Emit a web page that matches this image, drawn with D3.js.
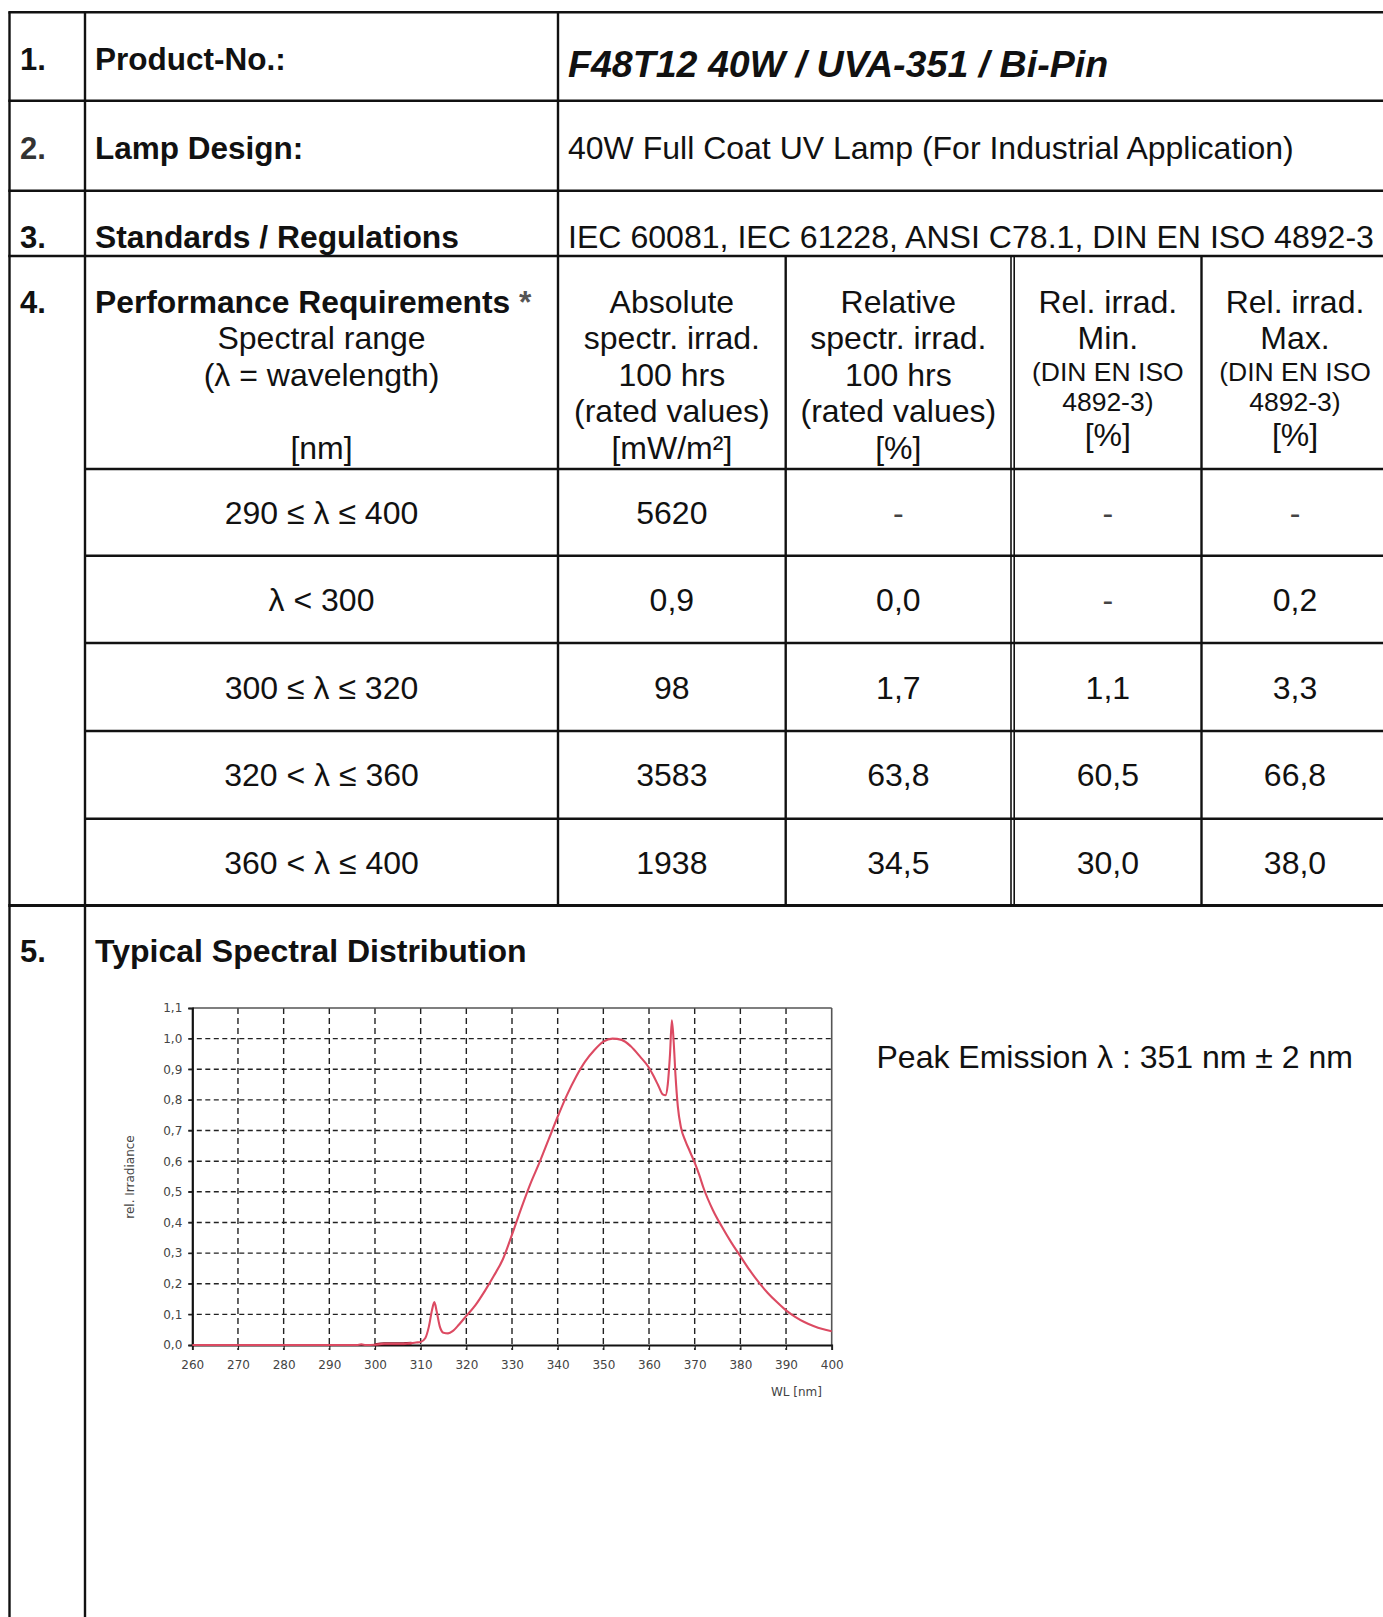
<!DOCTYPE html>
<html>
<head>
<meta charset="utf-8">
<script src="https://cdn.jsdelivr.net/npm/d3@7"></script>
<style>
  html, body { margin: 0; padding: 0; background: #fff; }
  svg { display: block; }
</style>
</head>
<body>
<svg id="page" width="1383" height="1617"></svg>
<script>
// ---------------- DATA ----------------
const wavelengths = [260, 290, 296, 297, 298, 300, 302, 304, 306, 307,
  308, 309, 310, 311, 311.8, 312.5, 313, 313.5, 314.2, 315,
  316, 317, 318, 320, 322, 324, 326, 328, 330, 332,
  334, 336, 338, 340, 342, 344, 346, 348, 350, 352,
  354, 356, 358, 360, 361, 362, 363, 363.6, 364.1, 364.6,
  365, 365.4, 365.8, 366.3, 367, 368, 369, 370, 371, 372,
  374, 376, 378, 380, 382, 384, 386, 388, 390, 392,
  394, 396, 398, 400];
const irradiance = [0, 0, 0, 0.002, 0, 0.001, 0.004, 0.004, 0.004, 0.005,
  0.006, 0.008, 0.01, 0.022, 0.06, 0.115, 0.14, 0.11, 0.06, 0.04,
  0.038, 0.045, 0.06, 0.095, 0.13, 0.175, 0.225, 0.28, 0.36, 0.445,
  0.525, 0.595, 0.67, 0.745, 0.815, 0.875, 0.925, 0.962, 0.99, 1.0,
  0.996, 0.975, 0.942, 0.905, 0.878, 0.848, 0.818, 0.815, 0.85, 0.95,
  1.06, 0.99, 0.88, 0.78, 0.71, 0.665, 0.63, 0.595, 0.555, 0.51,
  0.44, 0.385, 0.335, 0.29, 0.245, 0.205, 0.17, 0.14, 0.113, 0.092,
  0.075, 0.062, 0.052, 0.045];
const xTicks = [260, 270, 280, 290, 300, 310, 320, 330, 340, 350, 360, 370, 380, 390, 400];
const yTicks = [0, 0.1, 0.2, 0.3, 0.4, 0.5, 0.6, 0.7, 0.8, 0.9, 1.0, 1.1];

const rangeLabels = ["290 \u2264 \u03BB \u2264 400", "\u03BB < 300", "300 \u2264 \u03BB \u2264 320", "320 < \u03BB \u2264 360", "360 < \u03BB \u2264 400"];
const absValues = ["5620", "0,9", "98", "3583", "1938"];
const relValues = ["-", "0,0", "1,7", "63,8", "34,5"];
const minValues = ["-", "-", "1,1", "60,5", "30,0"];
const maxValues = ["-", "0,2", "3,3", "66,8", "38,0"];

const headLeft = ["Spectral range", "(\u03BB = wavelength)", "", "[nm]"];
const headAbs = ["Absolute", "spectr. irrad.", "100 hrs", "(rated values)", "[mW/m\u00B2]"];
const headRel = ["Relative", "spectr. irrad.", "100 hrs", "(rated values)", "[%]"];
const headMin = ["Rel. irrad.", "Min.", "(DIN EN ISO", "4892-3)", "[%]"];
const headMax = ["Rel. irrad.", "Max.", "(DIN EN ISO", "4892-3)", "[%]"];

// ---------------- LAYOUT ----------------
const svg = d3.select("#page");
svg.append("rect").attr("width", 1383).attr("height", 1617).attr("fill", "#fff");

const FONT = "'Liberation Sans', Arial, Helvetica, sans-serif";
const ink = "#111";
const xL = 9.5, xN = 85, xV = 558, xA = 785.7, xR1 = 1011, xR2 = 1014.2, xM = 1201.5, xE = 1390;
const yTop = 12.3, y1 = 100.7, y2 = 190.8, y3 = 256, y4 = 469, yEnd4 = 905.5;
const rowLines = [469, 555.7, 643, 731, 818.8];

const grid = svg.append("g").attr("stroke", ink).attr("fill", "none");
function hl(x1, x2, y, w) { grid.append("line").attr("x1", x1).attr("x2", x2).attr("y1", y).attr("y2", y).attr("stroke-width", w || 2.4); }
function vl(x, ya, yb, w) { grid.append("line").attr("x1", x).attr("x2", x).attr("y1", ya).attr("y2", yb).attr("stroke-width", w || 2.4); }

[yTop, y1, y2, y3].forEach(y => hl(xL - 1.2, xE, y));
rowLines.forEach(y => hl(xN, xE, y));
hl(xL - 1.2, xE, yEnd4, 3.2);
vl(xL, yTop, 1617);
vl(xN, yTop, 1617);
vl(xV, yTop, yEnd4);
vl(xA, y3, yEnd4);
vl(xR1, y3, yEnd4, 1.6);
vl(xR2, y3, yEnd4, 1.6);
vl(xM, y3, yEnd4);

function txt(x, y, s, opts) {
  opts = opts || {};
  return svg.append("text").attr("x", x).attr("y", y).text(s)
    .attr("font-family", FONT)
    .attr("font-size", opts.size || 32)
    .attr("font-weight", opts.bold ? "bold" : "normal")
    .attr("font-style", opts.italic ? "italic" : "normal")
    .attr("text-anchor", opts.anchor || "start")
    .attr("fill", opts.fill || ink);
}

// Section numbers & labels
txt(20, 70, "1.", {bold: true, size: 31});
txt(95, 70, "Product-No.:", {bold: true, size: 31.5});
txt(568, 77, "F48T12 40W / UVA-351 / Bi-Pin", {bold: true, italic: true, size: 37.6});

txt(20, 159, "2.", {bold: true, size: 31, fill: "#333"});
txt(95, 159, "Lamp Design:", {bold: true, size: 31.5});
txt(568, 159, "40W Full Coat UV Lamp (For Industrial Application)", {size: 32});

txt(20, 247.5, "3.", {bold: true, size: 31});
txt(95, 247.5, "Standards / Regulations", {bold: true, size: 31.8});
txt(568, 247.5, "IEC 60081, IEC 61228, ANSI C78.1, DIN EN ISO 4892-3", {size: 32.1});

txt(20, 312.5, "4.", {bold: true, size: 31});
const perf = txt(95, 312.5, "Performance Requirements", {bold: true, size: 31.8});
perf.append("tspan").attr("fill", "#555").text(" *");

const lineH = 36.6, hb = 312.5;
headLeft.forEach((s, i) => { if (s) txt((xN + xV) / 2, hb + lineH * (i + 1), s, {anchor: "middle"}); });
headAbs.forEach((s, i) => txt((xV + xA) / 2, hb + lineH * i, s, {anchor: "middle"}));
headRel.forEach((s, i) => txt((xA + xR1) / 2, hb + lineH * i, s, {anchor: "middle"}));
function minMaxHead(arr, cx) {
  txt(cx, 312.5, arr[0], {anchor: "middle"});
  txt(cx, 348.8, arr[1], {anchor: "middle"});
  txt(cx, 380.5, arr[2], {anchor: "middle", size: 26.5});
  txt(cx, 410.5, arr[3], {anchor: "middle", size: 26.5});
  txt(cx, 446, arr[4], {anchor: "middle"});
}
minMaxHead(headMin, (xR2 + xM) / 2);
minMaxHead(headMax, 1295);

// Data rows
const rowCenters = rowLines.map((y, i) => (y + (i < rowLines.length - 1 ? rowLines[i + 1] : yEnd4)) / 2);
const cols = [
  {vals: rangeLabels, cx: (xN + xV) / 2},
  {vals: absValues, cx: (xV + xA) / 2},
  {vals: relValues, cx: (xA + xR1) / 2},
  {vals: minValues, cx: (xR2 + xM) / 2},
  {vals: maxValues, cx: 1295}
];
cols.forEach(c => {
  svg.append("g").selectAll("text").data(c.vals).join("text")
    .attr("x", c.cx)
    .attr("y", (d, i) => rowCenters[i] + 11.5)
    .attr("text-anchor", "middle")
    .attr("font-family", FONT).attr("font-size", 32)
    .attr("fill", d => d === "-" ? "#444" : ink)
    .text(d => d);
});

// Section 5
txt(20, 962, "5.", {bold: true, size: 31});
txt(95, 962, "Typical Spectral Distribution", {bold: true, size: 32});
txt(876.5, 1068, "Peak Emission \u03BB : 351 nm \u00B1 2 nm", {size: 32});

// ---------------- CHART ----------------
const px0 = 192.3, px1 = 831.7, py0 = 1345, py1 = 1008;
const x = d3.scaleLinear().domain([260, 400]).range([px0, px1]);
const y = d3.scaleLinear().domain([0, 1.1]).range([py0, py1]);
const chart = svg.append("g");
const CFONT = "'DejaVu Sans', Verdana, sans-serif";

// grid lines
chart.append("g").selectAll("line").data(yTicks.filter(v => v > 0 && v < 1.1)).join("line")
  .attr("x1", px0 - 4).attr("x2", px1).attr("y1", d => y(d)).attr("y2", d => y(d))
  .attr("stroke", "#222").attr("stroke-width", 1.4).attr("stroke-dasharray", "5,3.5");
chart.append("g").selectAll("line").data(xTicks.filter(v => v > 260 && v < 400)).join("line")
  .attr("x1", d => x(d)).attr("x2", d => x(d)).attr("y1", py1).attr("y2", py0 + 5)
  .attr("stroke", "#222").attr("stroke-width", 1.4).attr("stroke-dasharray", "6,4");

// frame top/right
chart.append("line").attr("x1", px0).attr("x2", px1).attr("y1", py1).attr("y2", py1).attr("stroke", "#555").attr("stroke-width", 1.6);
chart.append("line").attr("x1", px1).attr("x2", px1).attr("y1", py1).attr("y2", py0).attr("stroke", "#555").attr("stroke-width", 1.6);

// axes
const yAxis = d3.axisLeft(y).tickValues(yTicks).tickSize(4).tickPadding(6)
  .tickFormat(d => d.toFixed(1).replace(".", ","));
const gy = chart.append("g").attr("transform", `translate(${px0},0)`).call(yAxis);
const xAxis = d3.axisBottom(x).tickValues(xTicks).tickSize(5).tickPadding(10).tickFormat(d => d);
const gx = chart.append("g").attr("transform", `translate(0,${py0})`).call(xAxis);
[gx, gy].forEach(g => {
  g.select(".domain").attr("stroke", "#111").attr("stroke-width", 1.8);
  g.selectAll(".tick line").attr("stroke", "#222").attr("stroke-width", 1.2);
  g.selectAll(".tick text").attr("font-family", CFONT).attr("font-size", 12).attr("fill", "#444");
});
gy.select(".domain").attr("stroke-width", 2.2);

// axis titles
chart.append("text").attr("x", 822).attr("y", 1396).attr("text-anchor", "end")
  .attr("font-family", CFONT).attr("font-size", 12).attr("fill", "#444").text("WL [nm]");
chart.append("text").attr("transform", `translate(134,1177) rotate(-90)`)
  .attr("text-anchor", "middle").attr("font-family", CFONT).attr("font-size", 12).attr("fill", "#444")
  .text("rel. Irradiance");

// curve
const pts = wavelengths.map((w, i) => [w, irradiance[i]]);
const line = d3.line().x(d => x(d[0])).y(d => y(d[1])).curve(d3.curveMonotoneX);
chart.append("path").datum(pts.filter(d => d[0] >= 300 && d[0] <= 308))
  .attr("d", line).attr("fill", "none").attr("stroke", "#7a1020").attr("stroke-width", 3);
chart.append("path").datum(pts).attr("d", line)
  .attr("fill", "none").attr("stroke", "#dc4a62").attr("stroke-width", 2.1).attr("stroke-linejoin", "round");
</script>
</body>
</html>
